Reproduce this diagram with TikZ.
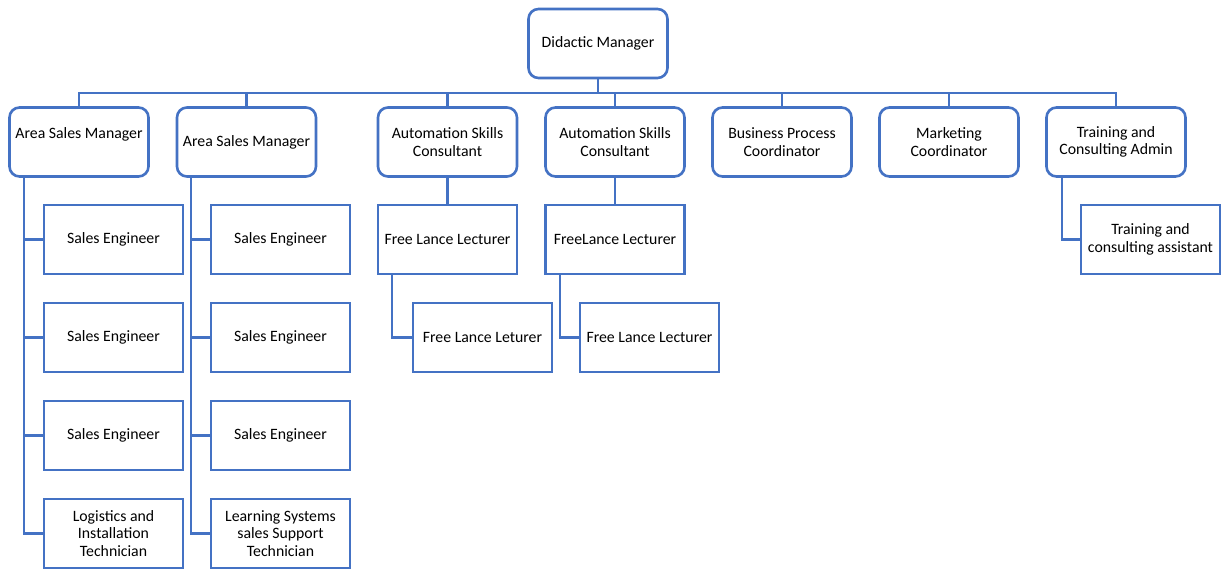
\documentclass[tikz,border=0pt]{standalone}
\usepackage{fontspec}
\setmainfont{Carlito}
\definecolor{orgblue}{HTML}{4472C4}
\begin{document}
\begin{tikzpicture}[x=1pt,y=-1pt,
  every node/.style={font=\fontsize{15.8}{17.7}\selectfont, text=black, align=center, inner sep=0pt},
  unit/.style={draw=orgblue, line width=2.6pt, minimum width=139pt, minimum height=69pt, fill=white},
  headbox/.style={unit, rounded corners=10pt},
  staffbox/.style={unit},
  link/.style={draw=orgblue, line width=2.6pt}]
\useasboundingbox (0,0) rectangle (1224,569);

% head of department
\node[headbox] (dm) at (598,43.5) {Didactic Manager};

% second level
\node[headbox] (asm1) at (79,142)   {Area Sales Manager\\\mbox{}};
\node[headbox] (asm2) at (246.5,142) {Area Sales Manager};
\node[headbox] (asc1) at (447.5,142) {Automation Skills\\Consultant};
\node[headbox] (asc2) at (615,142)  {Automation Skills\\Consultant};
\node[headbox] (bpc)  at (782,142)  {Business Process\\Coordinator};
\node[headbox] (mc)   at (949,142)  {Marketing\\Coordinator};
\node[headbox] (tca)  at (1116,142) {Training and\\Consulting Admin};

% bus from the head to the second level
\coordinate (bus) at (598,93);
\foreach \n in {asm1,asm2,asc1,asc2,bpc,mc,tca}
  \draw[link] (dm.south) -- (bus) -| (\n.north);

% sales team 1
\node[staffbox] (se11) at (113.5,239.5) {Sales Engineer};
\node[staffbox] (se12) at (113.5,337.5) {Sales Engineer};
\node[staffbox] (se13) at (113.5,435.5) {Sales Engineer};
\node[staffbox] (lit)  at (113.5,533.5) {Logistics and\\Installation\\Technician};
\coordinate (sp1) at (24,176.5);
\foreach \n in {se11,se12,se13,lit}
  \draw[link] (sp1) |- (\n.west);

% sales team 2
\node[staffbox] (se21) at (280.5,239.5) {Sales Engineer};
\node[staffbox] (se22) at (280.5,337.5) {Sales Engineer};
\node[staffbox] (se23) at (280.5,435.5) {Sales Engineer};
\node[staffbox] (lss)  at (280.5,533.5) {Learning Systems\\sales Support\\Technician};
\coordinate (sp2) at (191,176.5);
\foreach \n in {se21,se22,se23,lss}
  \draw[link] (sp2) |- (\n.west);

% lecturers
\node[staffbox] (fl1)  at (447.5,239.5) {Free Lance Lecturer};
\node[staffbox] (fl1b) at (482.5,337.5) {Free Lance Leturer};
\draw[link] (asc1.south) -- (fl1.north);
\coordinate (sp3) at (392,274);
\draw[link] (sp3) |- (fl1b.west);

\node[staffbox] (fl2)  at (615,239.5) {FreeLance Lecturer};
\node[staffbox] (fl2b) at (649.5,337.5) {Free Lance Lecturer};
\draw[link] (asc2.south) -- (fl2.north);
\coordinate (sp4) at (560,274);
\draw[link] (sp4) |- (fl2b.west);

% admin assistant
\node[staffbox] (tcas) at (1150.5,239.5) {Training and\\consulting assistant};
\coordinate (sp5) at (1062,176.5);
\draw[link] (sp5) |- (tcas.west);
\end{tikzpicture}
\end{document}
